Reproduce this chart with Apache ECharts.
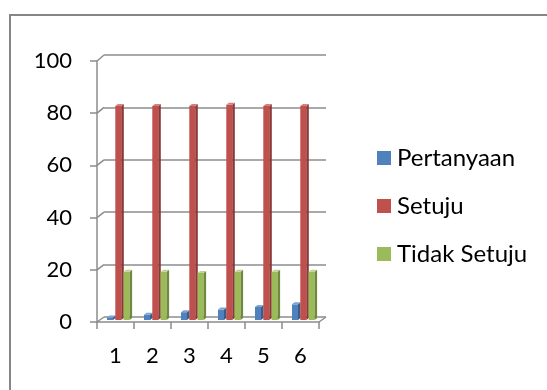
<!DOCTYPE html>
<html><head><meta charset="utf-8">
<script src="https://cdn.jsdelivr.net/npm/echarts@6/dist/echarts.min.js"></script>
<style>html,body{margin:0;padding:0;background:#fff}#c{width:547px;height:390px}</style>
</head><body><div id="c"></div>
<script>
const categories = ['1','2','3','4','5','6'];
const seriesNames = ['Pertanyaan','Setuju','Tidak Setuju'];
const pertanyaan = [1,2,3,4,5,6];
const setuju = [82,82,82,82.5,82,82];
const tidakSetuju = [18.5,18.5,18,18.5,18.5,18.5];
const yTicks = [0,20,40,60,80,100];

const FONT = 'Lato';
const GRID_COLOR = '#8c8c8c';
const colors = [
  {front:'#4F81BD', side:'#385D8A', top:'#7FA3D1'},
  {front:'#C0504D', side:'#8C3836', top:'#D9807E'},
  {front:'#9BBB59', side:'#71893F', top:'#BDD38E'}
];
const allValues = [pertanyaan, setuju, tidakSetuju];

function makeRender(s){
  return function(params, api){
    const idx = api.value(0), val = api.value(1);
    const top = api.coord([idx, val]);
    const base = api.coord([idx, 0]);
    const bw = 6, d = 2.5, dy = 2;
    const x = top[0] - 8.5 + s*8.3;
    const yT = top[1], y0 = base[1];
    const c = colors[s];
    return {type:'group', children:[
      {type:'rect', shape:{x:x, y:yT, width:bw, height:y0-yT}, style:{fill:c.front}},
      {type:'polygon', shape:{points:[[x+bw,yT],[x+bw+d,yT-dy],[x+bw+d,y0-dy],[x+bw,y0]]}, style:{fill:c.side}},
      {type:'polygon', shape:{points:[[x,yT],[x+d,yT-dy],[x+bw+d,yT-dy],[x+bw,yT]]}, style:{fill:c.top}}
    ]};
  };
}

const chart = echarts.init(document.getElementById('c'), null, {renderer:'canvas'});
const option = {
  animation:false,
  backgroundColor:'#fff',
  grid:[
    {left:104, right:221, top:55, bottom:73},   // back wall
    {left:97, right:228, top:61, bottom:68},    // front axes
    {left:97, right:228, top:59, bottom:70}     // bars
  ],
  xAxis:[
    {gridIndex:0, type:'category', data:categories, show:false},
    {gridIndex:1, type:'category', data:categories,
      axisLine:{show:true, lineStyle:{color:GRID_COLOR, width:1.5}},
      axisTick:{show:true, length:7, lineStyle:{color:GRID_COLOR, width:1.5}},
      axisLabel:{color:'#000', fontFamily:FONT, fontSize:22, margin:23}},
    {gridIndex:2, type:'category', data:categories, show:false}
  ],
  yAxis:[
    {gridIndex:0, type:'value', min:0, max:100, interval:20,
      axisLine:{show:false}, axisTick:{show:false}, axisLabel:{show:false},
      splitLine:{show:true, lineStyle:{color:GRID_COLOR, width:1.5}}},
    {gridIndex:1, type:'value', min:0, max:100, interval:20,
      axisLine:{show:true, lineStyle:{color:GRID_COLOR, width:1.5}},
      axisTick:{show:true, length:7, lineStyle:{color:GRID_COLOR, width:1.5}},
      splitLine:{show:false},
      axisLabel:{color:'#000', fontFamily:FONT, fontSize:22, margin:25}},
    {gridIndex:2, type:'value', min:0, max:100, interval:20, show:false, splitLine:{show:false}}
  ],
  legend:{
    orient:'vertical', left:377, top:146, padding:0, icon:'rect', itemWidth:14, itemHeight:14,
    itemGap:24, data:seriesNames,
    textStyle:{fontFamily:FONT, fontSize:24, lineHeight:24, color:'#000', padding:[0,0,0,1]}
  },
  series: seriesNames.map((n,s)=>({
    name:n, type:'custom', xAxisIndex:2, yAxisIndex:2,
    itemStyle:{color:colors[s].front},
    renderItem: makeRender(s),
    encode:{x:0, y:1},
    data: allValues[s].map((v,i)=>[i, v])
  })),
  graphic:[
    {type:'rect', shape:{x:10, y:15, width:560, height:400}, style:{fill:null, stroke:'#868686', lineWidth:2}, silent:true}
  ]
};
chart.setOption(option);

// 3D connectors from front axes to back wall, computed from the scales
const extra = [];
const fr = chart.getModel().getComponent('grid',1).coordinateSystem.getRect();
const br = chart.getModel().getComponent('grid',0).coordinateSystem.getRect();
yTicks.forEach(t=>{
  const f = chart.convertToPixel({gridIndex:1}, [0, t]);
  const b = chart.convertToPixel({gridIndex:0}, [0, t]);
  extra.push({type:'line', shape:{x1:fr.x, y1:f[1], x2:br.x, y2:b[1]}, style:{stroke:GRID_COLOR, lineWidth:1.5}, silent:true});
});
extra.push({type:'line', shape:{x1:fr.x+fr.width, y1:fr.y+fr.height, x2:br.x+br.width, y2:br.y+br.height}, style:{stroke:GRID_COLOR, lineWidth:1.5}, silent:true});
chart.setOption({graphic: option.graphic.concat(extra)});
</script></body></html>
